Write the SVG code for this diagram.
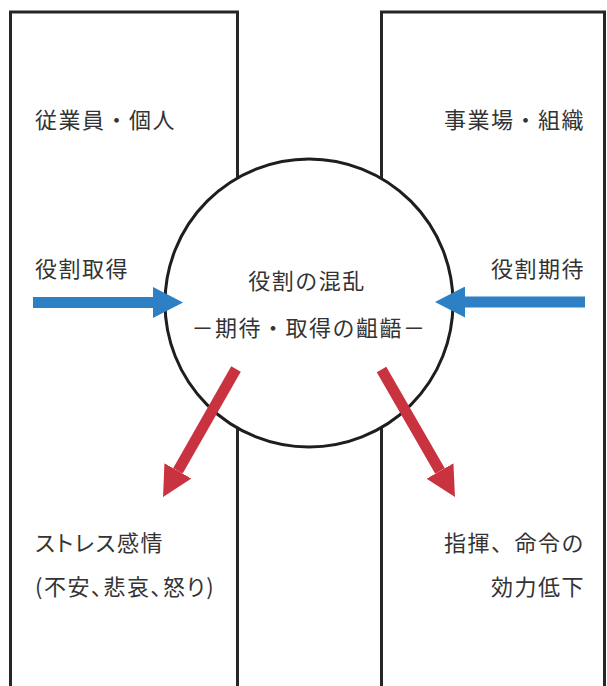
<svg xmlns="http://www.w3.org/2000/svg" width="607" height="686" viewBox="0 0 607 686">
  <style>
    .frame { fill: none; stroke: #262626; stroke-width: 3; }
    .hub { fill: #ffffff; stroke: #1e1e1e; stroke-width: 3; }
    .lbl { font-family: "Noto Sans CJK JP", "Noto Sans", sans-serif; font-size: 22px; fill: #333333; letter-spacing: 1.5px; }
    .prop { font-feature-settings: "palt"; }
    .end { text-anchor: end; }
    .mid { text-anchor: middle; }
    .blue { stroke: #2c80c3; stroke-width: 11; fill: none; }
    .red { stroke: #c93340; stroke-width: 11; fill: none; }
  </style>
  <defs>
    <marker id="headBlue" markerUnits="userSpaceOnUse" viewBox="0 0 30 31" markerWidth="30" markerHeight="31" refX="0" refY="15.5" orient="auto">
      <path d="M0,0 L30,15.5 L0,31 Z" fill="#2c80c3"/>
    </marker>
    <marker id="headRed" markerUnits="userSpaceOnUse" viewBox="0 0 30 31" markerWidth="30" markerHeight="31" refX="0" refY="15.5" orient="auto">
      <path d="M0,0 L30,15.5 L0,31 Z" fill="#c93340"/>
    </marker>
  </defs>
  <rect width="607" height="686" fill="#ffffff"/>

  <g id="employee">
    <path class="frame" d="M10.5,690 V12 H237.5 V690"/>
    <text class="lbl" x="35" y="128">従業員・個人</text>
    <text class="lbl" x="35" y="277">役割取得</text>
    <text class="lbl prop" x="35" y="551">ストレス感情</text>
    <text class="lbl prop" x="35" y="595" letter-spacing="0.5">(不安、悲哀、怒り)</text>
  </g>

  <g id="organization">
    <path class="frame" d="M381.5,690 V12 H604.5 V690"/>
    <text class="lbl end" x="585" y="128">事業場・組織</text>
    <text class="lbl end" x="585" y="277">役割期待</text>
    <text class="lbl end" x="585" y="551">指揮、命令の</text>
    <text class="lbl end" x="585" y="595">効力低下</text>
  </g>

  <g id="role-confusion">
    <circle class="hub" cx="309" cy="303" r="144"/>
    <text class="lbl mid" x="307" y="289">役割の混乱</text>
    <text class="lbl mid" x="309" y="336">－期待・取得の齟齬－</text>
  </g>

  <g id="connectors">
    <line class="blue" x1="33" y1="302.5" x2="153" y2="302.5" marker-end="url(#headBlue)"/>
    <line class="blue" x1="585" y1="302" x2="465" y2="302" marker-end="url(#headBlue)"/>
    <line class="red" x1="236" y1="369" x2="177.9" y2="470.9" marker-end="url(#headRed)"/>
    <line class="red" x1="381.5" y1="369.5" x2="440" y2="471" marker-end="url(#headRed)"/>
  </g>
</svg>
